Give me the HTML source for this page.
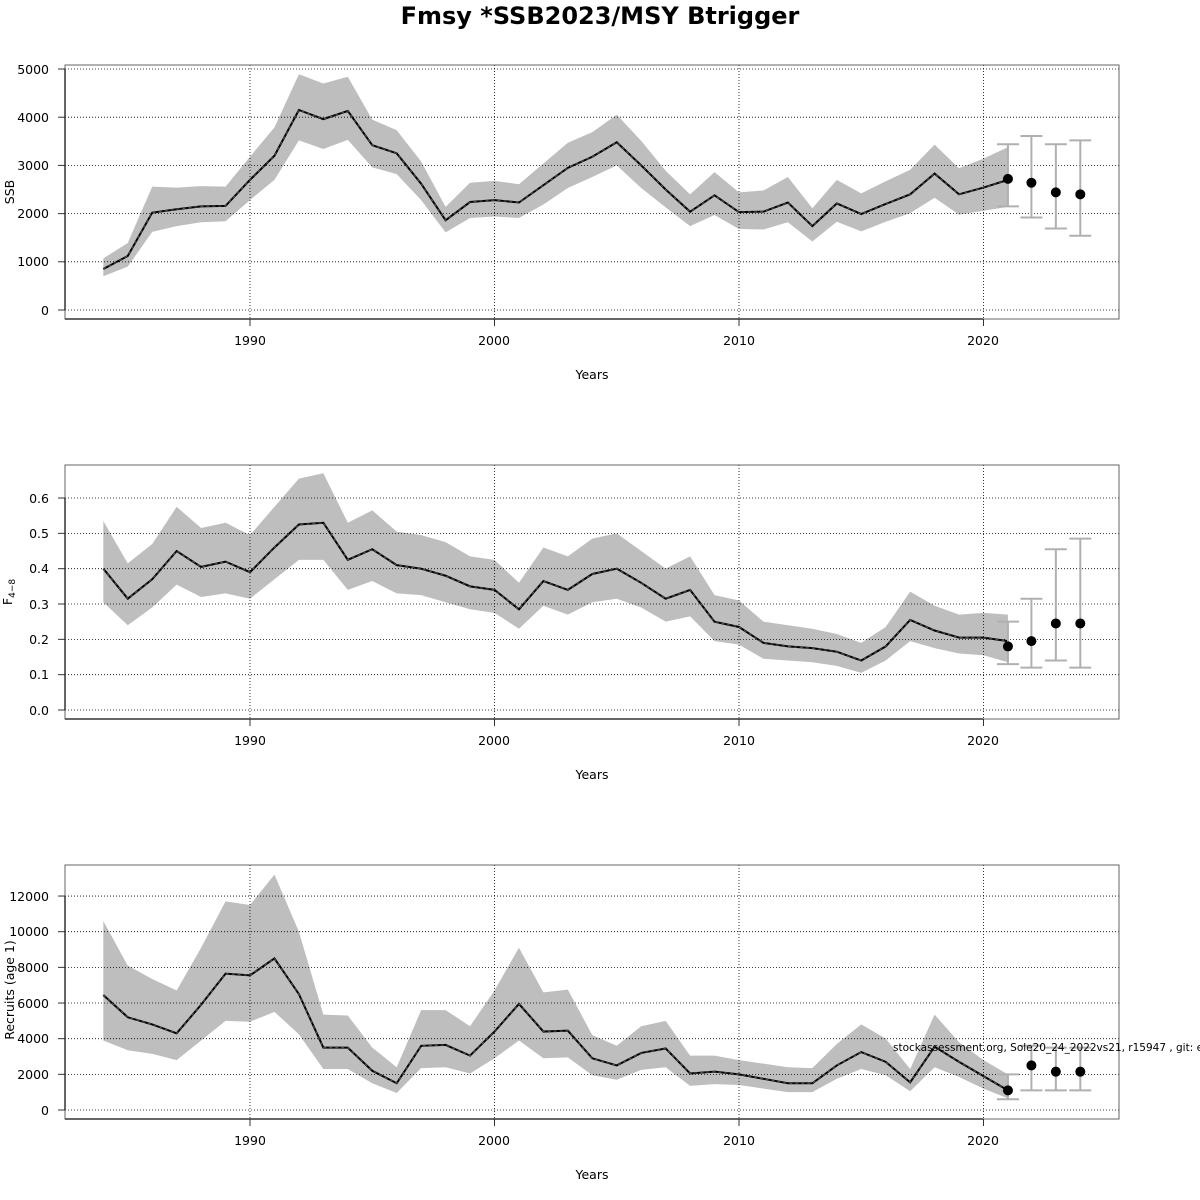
<!DOCTYPE html>
<html><head><meta charset="utf-8"><style>
html,body{margin:0;padding:0;background:#fff;width:1200px;height:1200px;overflow:hidden}
svg{display:block;font-family:"DejaVu Sans","Liberation Sans",sans-serif}
</style></head><body>
<svg id="s" width="1200" height="1200" viewBox="0 0 1200 1200">
<rect width="1200" height="1200" fill="#fff"/>
<text x="600" y="24" text-anchor="middle" font-size="24" font-weight="bold">Fmsy *SSB2023/MSY Btrigger</text>
<g id="p1"></g><g id="p2"></g><g id="p3"></g>
<g font-size="12.5" fill="#000">
<text x="49" y="74" text-anchor="end">5000</text>
<text x="49" y="122" text-anchor="end">4000</text>
<text x="49" y="170" text-anchor="end">3000</text>
<text x="49" y="218" text-anchor="end">2000</text>
<text x="49" y="266" text-anchor="end">1000</text>
<text x="49" y="315" text-anchor="end">0</text>
<text x="250" y="345" text-anchor="middle">1990</text>
<text x="494" y="345" text-anchor="middle">2000</text>
<text x="739" y="345" text-anchor="middle">2010</text>
<text x="983" y="345" text-anchor="middle">2020</text>
<text x="592" y="379" text-anchor="middle">Years</text>
<text transform="translate(14,192) rotate(-90)" text-anchor="middle">SSB</text>
<text x="49" y="503" text-anchor="end">0.6</text>
<text x="49" y="538" text-anchor="end">0.5</text>
<text x="49" y="573" text-anchor="end">0.4</text>
<text x="49" y="609" text-anchor="end">0.3</text>
<text x="49" y="644" text-anchor="end">0.2</text>
<text x="49" y="679" text-anchor="end">0.1</text>
<text x="49" y="715" text-anchor="end">0.0</text>
<text x="250" y="745" text-anchor="middle">1990</text>
<text x="494" y="745" text-anchor="middle">2000</text>
<text x="739" y="745" text-anchor="middle">2010</text>
<text x="983" y="745" text-anchor="middle">2020</text>
<text x="592" y="779" text-anchor="middle">Years</text>
<text transform="translate(12,592) rotate(-90)" text-anchor="middle">F<tspan font-size="9" dy="3">4−8</tspan></text>
<text x="49" y="901" text-anchor="end">12000</text>
<text x="49" y="936" text-anchor="end">10000</text>
<text x="49" y="972" text-anchor="end">8000</text>
<text x="49" y="1008" text-anchor="end">6000</text>
<text x="49" y="1043" text-anchor="end">4000</text>
<text x="49" y="1079" text-anchor="end">2000</text>
<text x="49" y="1115" text-anchor="end">0</text>
<text x="250" y="1145" text-anchor="middle">1990</text>
<text x="494" y="1145" text-anchor="middle">2000</text>
<text x="739" y="1145" text-anchor="middle">2010</text>
<text x="983" y="1145" text-anchor="middle">2020</text>
<text x="592" y="1179" text-anchor="middle">Years</text>
<text transform="translate(14,990) rotate(-90)" text-anchor="middle">Recruits (age 1)</text>
</g>
<text x="893" y="1051" font-size="10.5">stockassessment.org, Sole20_24_2022vs21, r15947 , git: ec2c2</text>
</svg>
<script>
const NS="http://www.w3.org/2000/svg";
function X(y){return 250+(y-1990)*24.45;}
function el(g,t,a){const e=document.createElementNS(NS,t);for(const k in a)e.setAttribute(k,a[k]);g.appendChild(e);return e;}
function panel(id,top,bot,y0,ypx,ticks,est,up,lo,fc){
 const g=document.getElementById(id);
 const Y=v=>y0-v*ypx;
 const yrs=est.map((_,i)=>1984+i);
 let pts=yrs.map((y,i)=>X(y)+","+Y(up[i])).concat(yrs.slice().reverse().map((y,j)=>X(y)+","+Y(lo[lo.length-1-j])));
 el(g,"polygon",{points:pts.join(" "),fill:"#bebebe"});
 ticks.forEach(t=>el(g,"line",{x1:65,x2:1119,y1:Y(t),y2:Y(t),stroke:"#000","stroke-width":0.8,"stroke-dasharray":"1,2"}));
 [1990,2000,2010,2020].forEach(y=>el(g,"line",{x1:X(y),x2:X(y),y1:top,y2:bot,stroke:"#000","stroke-width":0.8,"stroke-dasharray":"1,2"}));
 el(g,"polyline",{points:yrs.map((y,i)=>X(y)+","+Y(est[i])).join(" "),fill:"none",stroke:"#000","stroke-width":2});
 el(g,"polyline",{points:yrs.map((y,i)=>X(y)+","+Y(est[i])).join(" "),fill:"none",stroke:"#555","stroke-width":1,"stroke-dasharray":"3,3"});
 fc.forEach(f=>{const x=X(f[0])-(f[0]>2021?1:0);
  el(g,"line",{x1:x,x2:x,y1:Y(f[2]),y2:Y(f[3]),stroke:"#b0b0b0","stroke-width":2});
  el(g,"line",{x1:x-11,x2:x+11,y1:Y(f[2]),y2:Y(f[2]),stroke:"#b0b0b0","stroke-width":2});
  el(g,"line",{x1:x-11,x2:x+11,y1:Y(f[3]),y2:Y(f[3]),stroke:"#b0b0b0","stroke-width":2});
  el(g,"circle",{cx:x,cy:Y(f[1]),r:5,fill:"#000"});});
 el(g,"rect",{x:65,y:top,width:1054,height:bot-top,fill:"none",stroke:"#666","stroke-width":1});
 el(g,"line",{x1:65,x2:65,y1:Y(ticks[0]),y2:Y(ticks[ticks.length-1]),stroke:"#333","stroke-width":1.5});
 el(g,"line",{x1:65,x2:983,y1:bot,y2:bot,stroke:"#333","stroke-width":1.5});
 ticks.forEach(t=>el(g,"line",{x1:58,x2:65,y1:Y(t),y2:Y(t),stroke:"#333"}));
 [1990,2000,2010,2020].forEach(y=>el(g,"line",{x1:X(y),x2:X(y),y1:bot,y2:bot+7,stroke:"#333"}));
}
panel("p1",65,319,310,0.0482,[0,1000,2000,3000,4000,5000],
[850,1120,2020,2090,2150,2160,2700,3200,4150,3960,4130,3420,3250,2620,1860,2240,2280,2230,2590,2950,3180,3480,3000,2500,2040,2380,2030,2040,2230,1740,2210,1990,2200,2400,2830,2400,2540,2700],
[1070,1390,2560,2540,2570,2560,3180,3790,4890,4700,4840,3950,3730,3080,2140,2640,2680,2610,3040,3470,3690,4050,3510,2890,2400,2860,2440,2480,2760,2110,2700,2420,2670,2910,3430,2940,3140,3380],
[700,900,1620,1740,1820,1840,2280,2700,3520,3340,3530,2960,2820,2280,1610,1910,1940,1910,2190,2530,2760,3000,2530,2130,1740,1970,1680,1670,1820,1420,1830,1630,1830,2010,2330,1980,2060,2140],
[[2021,2720,2150,3440],[2022,2640,1920,3610],[2023,2440,1690,3440],[2024,2400,1540,3520]]);
panel("p2",465,719,710,353.3,[0,0.1,0.2,0.3,0.4,0.5,0.6],
[.40,.315,.37,.45,.405,.42,.39,.46,.525,.53,.425,.455,.41,.40,.38,.35,.34,.285,.365,.34,.385,.40,.36,.315,.34,.25,.235,.19,.18,.175,.165,.14,.18,.255,.225,.205,.205,.195],
[.535,.415,.47,.575,.515,.53,.495,.575,.655,.67,.53,.565,.505,.495,.475,.435,.425,.36,.46,.435,.485,.50,.45,.40,.435,.325,.31,.25,.24,.23,.215,.19,.235,.335,.295,.27,.275,.27],
[.305,.24,.29,.355,.32,.33,.315,.37,.425,.425,.34,.365,.33,.325,.305,.285,.275,.23,.295,.27,.305,.315,.29,.25,.265,.195,.185,.145,.14,.135,.125,.105,.14,.195,.175,.16,.155,.135],
[[2021,.18,.13,.25],[2022,.195,.12,.315],[2023,.245,.14,.455],[2024,.245,.12,.485]]);
panel("p3",865,1119,1110,17.83,[0,2,4,6,8,10,12],
[6.45,5.2,4.8,4.3,5.9,7.65,7.55,8.5,6.5,3.5,3.5,2.2,1.5,3.6,3.65,3.05,4.4,5.95,4.4,4.45,2.9,2.5,3.2,3.45,2.05,2.15,2.0,1.75,1.5,1.5,2.5,3.25,2.7,1.55,3.55,2.7,1.9,1.1],
[10.6,8.1,7.35,6.7,9.1,11.7,11.5,13.2,10.0,5.35,5.3,3.5,2.4,5.6,5.6,4.7,6.7,9.1,6.6,6.75,4.2,3.6,4.7,5.0,3.05,3.05,2.8,2.6,2.4,2.35,3.7,4.8,4.0,2.3,5.35,3.8,2.8,2.0],
[3.9,3.35,3.15,2.8,3.9,5.0,4.95,5.5,4.25,2.3,2.3,1.5,0.95,2.35,2.4,2.05,2.9,3.9,2.9,2.95,1.95,1.7,2.25,2.4,1.35,1.45,1.4,1.2,1.0,1.0,1.75,2.3,1.95,1.05,2.4,1.85,1.2,0.65],
[[2021,1.1,0.6,2.0],[2022,2.5,1.1,3.6],[2023,2.15,1.1,3.5],[2024,2.15,1.1,3.5]]);
</script>
</body></html>
